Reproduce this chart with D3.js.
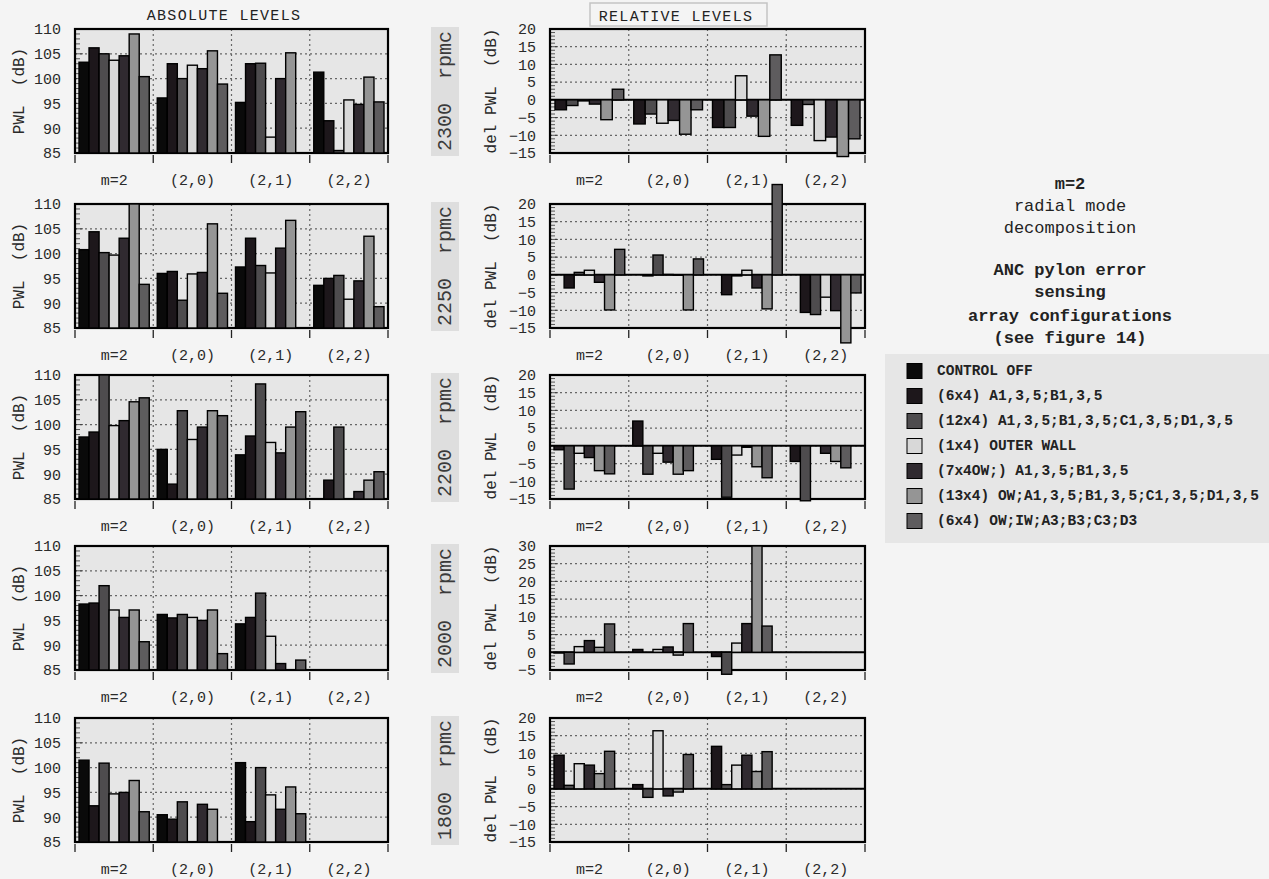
<!DOCTYPE html>
<html>
<head>
<meta charset="utf-8">
<script src="https://cdnjs.cloudflare.com/ajax/libs/d3/7.8.5/d3.min.js"></script>
<style>
  body { margin: 0; background: #f4f4f4; }
  svg { display: block; font-family: "Liberation Mono", "Courier New", monospace; }
</style>
</head>
<body>
<svg id="chart" width="1269" height="879"></svg>
<script>
var rpms = ["2300", "2250", "2200", "2000", "1800"];
var modes = ["m=2", "(2,0)", "(2,1)", "(2,2)"];
var configs = ["CONTROL OFF", "(6x4) A1,3,5;B1,3,5", "(12x4) A1,3,5;B1,3,5;C1,3,5;D1,3,5",
  "(1x4) OUTER WALL", "(7x4OW;) A1,3,5;B1,3,5", "(13x4) OW;A1,3,5;B1,3,5;C1,3,5;D1,3,5",
  "(6x4) OW;IW;A3;B3;C3;D3"];
var absTicks = [85, 90, 95, 100, 105, 110];
var relTicks = [-15, -10, -5, 0, 5, 10, 15, 20];
var relTicks2000 = [-5, 0, 5, 10, 15, 20, 25, 30];

// absolute PWL (dB), one row per mode, one value per config
var abs2300 = [[103.3, 106.2, 105.0, 103.7, 104.6, 109.0, 100.4],
               [96.1, 103.0, 100.0, 102.7, 102.0, 105.6, 98.9],
               [95.2, 103.0, 103.1, 88.2, 100.0, 105.2, null],
               [101.3, 91.5, 85.5, 95.7, 94.8, 100.3, 95.3]];
var abs2250 = [[100.8, 104.4, 100.2, 99.7, 103.1, 110.0, 93.8],
               [96.0, 96.4, 90.6, 95.9, 96.2, 106.0, 92.0],
               [97.3, 103.1, 97.6, 96.1, 101.1, 106.7, null],
               [93.6, 95.0, 95.6, 90.8, 94.5, 103.5, 89.3]];
var abs2200 = [[97.5, 98.5, 110.0, 99.8, 100.8, 104.6, 105.4],
               [95.0, 88.0, 102.8, 97.0, 99.5, 102.8, 101.8],
               [93.9, 97.7, 108.2, 96.4, 94.3, 99.5, 102.6],
               [null, 88.8, 99.5, null, 86.5, 88.8, 90.5]];
var abs2000 = [[98.3, 98.5, 102.0, 97.1, 95.6, 97.1, 90.7],
               [96.2, 95.5, 96.2, 95.6, 95.0, 97.1, 88.3],
               [94.3, 95.6, 100.5, 91.8, 86.3, null, 87.0],
               [null, null, null, null, null, null, null]];
var abs1800 = [[101.5, 92.3, 100.9, 94.7, 95.0, 97.4, 91.1],
               [90.5, 89.6, 93.1, null, 92.6, 91.6, null],
               [101.0, 89.1, 100.0, 94.5, 91.6, 96.1, 90.7],
               [null, null, null, null, null, null, null]];

// relative levels del PWL (dB), configs 2..7
var rel2300 = [[-2.8, -1.6, -0.3, -1.2, -5.6, 3.0],
               [-6.8, -4.0, -6.6, -5.8, -9.7, -2.8],
               [-7.8, -7.8, 6.8, -4.6, -10.3, 12.7],
               [-7.2, -1.3, -11.5, -10.5, -16.0, -11.0]];
var rel2250 = [[-3.7, 0.7, 1.3, -2.1, -9.9, 7.2],
               [-0.3, 5.6, 0.1, -0.1, -9.9, 4.5],
               [-5.6, -0.3, 1.3, -3.7, -9.6, 25.5],
               [-10.6, -11.2, -6.3, -10.1, -19.2, -5.1]];
var rel2200 = [[-1.1, -12.2, -2.1, -3.3, -7.0, -7.9],
               [7.0, -8.0, -2.1, -4.6, -8.0, -7.0],
               [-3.8, -14.5, -2.6, -0.4, -5.9, -9.0],
               [-4.4, -15.5, 0, -2.1, -4.4, -6.2]];
var rel2000 = [[-0.2, -3.3, 1.6, 3.3, 1.4, 8.0],
               [0.8, 0.0, 0.8, 1.5, -0.8, 8.1],
               [-1.2, -6.2, 2.6, 8.1, 30.0, 7.4],
               [null, null, null, null, null, null]];
var rel1800 = [[9.5, 1.0, 7.1, 6.7, 4.3, 10.6],
               [1.2, -2.4, 16.4, -2.0, -0.9, 9.7],
               [12.0, 1.2, 6.7, 9.5, 4.9, 10.5],
               [null, null, null, null, null, null]];

var absLevels = [abs2300, abs2250, abs2200, abs2000, abs1800];
var relLevels = [rel2300, rel2250, rel2200, rel2000, rel1800];
var relTickSets = [relTicks, relTicks, relTicks, relTicks2000, relTicks];

var seriesColors = ["#0a0a0a", "#1d171b", "#4e4c4e", "#d8d8d8", "#302a30", "#959595", "#5e5c5e"];

var svg = d3.select("#chart");
var panelH = 124;
var rowTop = [29, 204, 375, 546, 718];
var relSlots = [6, 7, 7, 7, 7];
var relOffset = [0, 1, 0, 0, 0];

function drawPanel(left, top, width, ticks, data, nSlots, slotOffset, colors, base, yLabel) {
  var g = svg.append("g").attr("transform", "translate(" + left + "," + top + ")");
  var y = d3.scaleLinear().domain([ticks[0], ticks[ticks.length - 1]]).range([panelH, 0]);
  var x0 = d3.scaleBand().domain(modes).range([0, width]);
  var pad = nSlots == 6 ? 5 : 4;
  var x1 = d3.scaleBand().domain(d3.range(nSlots)).range([pad, x0.bandwidth() - pad]);

  g.append("rect").attr("width", width).attr("height", panelH).attr("fill", "#e6e6e6");

  g.selectAll(".hgrid").data(ticks.slice(1, -1)).join("line")
    .attr("x1", 0).attr("x2", width)
    .attr("y1", function (d) { return y(d); }).attr("y2", function (d) { return y(d); })
    .attr("stroke", "#666").attr("stroke-width", 1.2).attr("stroke-dasharray", "2,3");

  g.selectAll(".vgrid").data(modes.slice(1)).join("line")
    .attr("x1", function (d) { return x0(d); }).attr("x2", function (d) { return x0(d); })
    .attr("y1", 0).attr("y2", panelH)
    .attr("stroke", "#666").attr("stroke-width", 1.2).attr("stroke-dasharray", "2,3");

  // minor ticks inside the left edge
  g.selectAll(".minor").data(d3.range(ticks[0] + 1, ticks[ticks.length - 1])).join("line")
    .attr("x1", 0).attr("x2", function (d) { return d % 5 == 0 ? 8 : 5; })
    .attr("y1", function (d) { return y(d); }).attr("y2", function (d) { return y(d); })
    .attr("stroke", "#333").attr("stroke-width", 0.8);

  if (base == 0) {
    g.append("line").attr("x1", 0).attr("x2", width).attr("y1", y(0)).attr("y2", y(0))
      .attr("stroke", "#000").attr("stroke-width", 2);
  }

  g.append("rect").attr("width", width).attr("height", panelH)
    .attr("fill", "none").attr("stroke", "#000").attr("stroke-width", 2.2);

  var bars = [];
  data.forEach(function (vals, gi) {
    vals.forEach(function (v, si) {
      if (v != null) bars.push({ mode: modes[gi], slot: si + slotOffset, v: v, color: colors[si] });
    });
  });

  g.selectAll(".bar").data(bars).join("rect")
    .attr("x", function (d) { return x0(d.mode) + x1(d.slot); })
    .attr("width", x1.bandwidth())
    .attr("y", function (d) { return Math.min(y(d.v), y(base)); })
    .attr("height", function (d) { return Math.abs(y(d.v) - y(base)); })
    .attr("fill", function (d) { return d.color; })
    .attr("stroke", "#000").attr("stroke-width", 1.4);

  // y tick labels
  var ya = g.append("g").call(d3.axisLeft(y).tickValues(ticks).tickSize(0).tickPadding(14));
  ya.select(".domain").remove();
  ya.selectAll("text").attr("font-family", "Liberation Mono, monospace")
    .attr("font-size", 15).attr("fill", "#2a2a2a");

  // x category labels and boundary ticks
  var xa = g.append("g").attr("transform", "translate(0," + panelH + ")")
    .call(d3.axisBottom(x0).tickSize(0).tickPadding(21));
  xa.select(".domain").remove();
  xa.selectAll("text").attr("font-family", "Liberation Mono, monospace")
    .attr("font-size", 15).attr("fill", "#2a2a2a");

  var bounds = modes.map(function (m) { return x0(m); }).concat([width]);
  g.selectAll(".xtick").data(bounds).join("line")
    .attr("x1", function (d) { return d; }).attr("x2", function (d) { return d; })
    .attr("y1", panelH + 2).attr("y2", panelH + 10)
    .attr("stroke", "#222").attr("stroke-width", 1.3);

  svg.append("text")
    .attr("transform", "translate(" + yLabel.x + "," + (top + panelH / 2) + ") rotate(-90)")
    .attr("text-anchor", "middle").attr("dominant-baseline", "central")
    .attr("font-size", 16).attr("fill", "#2a2a2a").style("white-space", "pre")
    .text(yLabel.text);
}

rpms.forEach(function (rpm, i) {
  var top = rowTop[i];
  drawPanel(75, top, 313, absTicks, absLevels[i], 7, 0, seriesColors, absTicks[0],
    { x: 20, text: "PWL  (dB)" });
  drawPanel(550, top, 315, relTickSets[i], relLevels[i], relSlots[i], relOffset[i],
    seriesColors.slice(1), 0, { x: 492, text: "del PWL  (dB)" });

  svg.append("rect").attr("x", 431).attr("y", top - 2).attr("width", 28).attr("height", panelH + 5)
    .attr("fill", "#dedede");
  svg.append("text")
    .attr("transform", "translate(445," + (top + panelH / 2) + ") rotate(-90)")
    .attr("text-anchor", "middle").attr("dominant-baseline", "central")
    .attr("font-size", 20).attr("fill", "#3a3a3a").style("white-space", "pre")
    .text(rpm + "  rpmc");
});

// column titles
svg.append("text").attr("x", 224).attr("y", 16).attr("text-anchor", "middle")
  .attr("dominant-baseline", "central").attr("font-size", 15).attr("letter-spacing", 1.3)
  .attr("fill", "#222").text("ABSOLUTE LEVELS");
svg.append("rect").attr("x", 590).attr("y", 3).attr("width", 177).attr("height", 23)
  .attr("fill", "#f4f4f4").attr("stroke", "#c4c4c4").attr("stroke-width", 1.5);
svg.append("text").attr("x", 676).attr("y", 17).attr("text-anchor", "middle")
  .attr("dominant-baseline", "central").attr("font-size", 15).attr("letter-spacing", 1.3)
  .attr("fill", "#222").text("RELATIVE LEVELS");

// side notes
var notes = [
  { t: "m=2", y: 184, w: "bold" },
  { t: "radial mode", y: 206, w: "normal" },
  { t: "decomposition", y: 228, w: "normal" },
  { t: "ANC pylon error", y: 270, w: "bold" },
  { t: "sensing", y: 292, w: "bold" },
  { t: "array configurations", y: 316, w: "bold" },
  { t: "(see figure 14)", y: 338, w: "bold" }
];
svg.selectAll(".note").data(notes).join("text")
  .attr("x", 1070).attr("y", function (d) { return d.y; })
  .attr("text-anchor", "middle").attr("dominant-baseline", "central")
  .attr("font-size", 17).attr("font-weight", function (d) { return d.w; })
  .attr("fill", "#222").text(function (d) { return d.t; });

// legend
svg.append("rect").attr("x", 885).attr("y", 354).attr("width", 384).attr("height", 189)
  .attr("fill", "#e6e6e6");
var leg = svg.selectAll(".leg").data(configs).join("g")
  .attr("transform", function (d, i) { return "translate(907," + (371 + i * 25) + ")"; });
leg.append("rect").attr("x", 0).attr("y", -7.5).attr("width", 15).attr("height", 15)
  .attr("fill", function (d, i) { return seriesColors[i]; })
  .attr("stroke", "#000").attr("stroke-width", 1);
leg.append("text").attr("x", 30).attr("y", 0).attr("dominant-baseline", "central")
  .attr("font-size", 14.5).attr("font-weight", "bold").attr("fill", "#222")
  .text(function (d) { return d; });
</script>
</body>
</html>
